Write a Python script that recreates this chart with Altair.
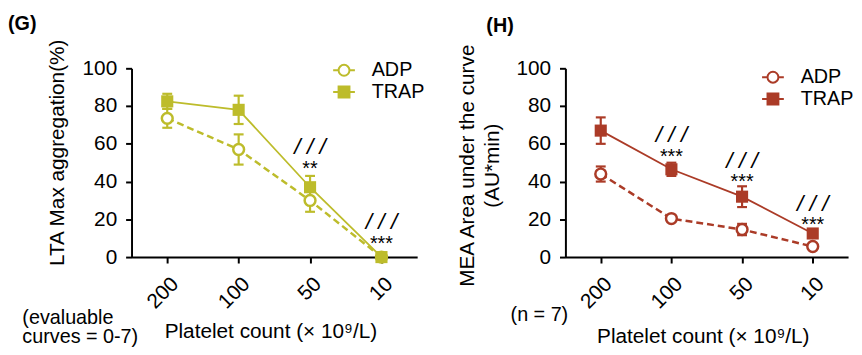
import altair as alt
import pandas as pd

FONT = "Liberation Sans"

categories = ["200", "100", "50", "10"]
series = ["ADP", "TRAP"]

# Panel G: LTA max aggregation (%)
g_adp = [73.5, 57.0, 30.0, 0.0]
g_adp_err = [5.0, 8.0, 6.0, 0.0]
g_trap = [82.5, 78.0, 37.0, 0.0]
g_trap_err = [4.0, 7.5, 6.0, 0.0]
g_sig_cat = ["50", "10"]
g_sig_slash_y = [58.5, 18.8]
g_sig_star = ["**", "***"]
g_sig_star_y = [49.6, 9.9]

# Panel H: MEA area under the curve (AU*min)
h_adp = [44.0, 20.4, 14.6, 5.6]
h_adp_err = [4.0, 1.5, 3.0, 1.0]
h_trap = [67.0, 46.5, 32.0, 12.5]
h_trap_err = [7.0, 3.5, 5.5, 1.5]
h_sig_cat = ["100", "50", "10"]
h_sig_slash_y = [64.8, 50.9, 28.2]
h_sig_star = ["***", "***", "***"]
h_sig_star_y = [56.1, 42.7, 19.9]

G_COLOR = "#bdbc2b"
H_COLOR = "#ab3b27"

ADP_PATH = "M-2,0L-1,0M1,0L2,0M1,0A1,1,0,1,1,-1,0A1,1,0,1,1,1,0Z"
TRAP_PATH = "M-2,0L-1,0M1,0L2,0M-1,-1L1,-1L1,1L-1,1Z"


def make_df(adp, adp_err, trap, trap_err):
    rows = []
    for s, vals, errs in (("ADP", adp, adp_err), ("TRAP", trap, trap_err)):
        for c, v, e in zip(categories, vals, errs):
            rows.append({"cat": c, "series": s, "value": v, "lo": v - e, "hi": v + e, "err": e})
    return pd.DataFrame(rows)


def make_sig(cats, slash_y, stars, star_y):
    return pd.DataFrame({"cat": cats, "slash_y": slash_y, "star": stars, "star_y": star_y})


def panel(df, sig, color, letter, letter_dx, letter_offset, ytitle, ytitle_x, ytitle_y,
          note, note_x, note_y, width, height, legend_x, legend_y, xtitle_y):
    x_scale = alt.Scale(type="point", padding=0.5)
    x_axis = alt.Axis(
        orient="bottom", title="Platelet count (× 10⁹/L)", labelAngle=-45,
        labelFontSize=21, titleFontSize=21, titleFontWeight="normal",
        tickSize=6, tickWidth=2, domainWidth=2, labelPadding=10,
        titleX=width / 2 - 4, titleY=xtitle_y, titleBaseline="middle",
        titleAlign="center",
    )
    y_scale = alt.Scale(domain=[0, 100], nice=False)
    y_axis = alt.Axis(
        values=[0, 20, 40, 60, 80, 100], tickCount=6, title=ytitle, labelFontSize=21,
        titleFontSize=21, titleFontWeight="normal", tickSize=6, tickWidth=2,
        domainWidth=2, labelPadding=9, grid=False, labelOverlap=False,
        titleX=ytitle_x, titleY=ytitle_y, titleBaseline="top", titleAlign="center",
        titleLineHeight=25, titleAngle=270,
    )

    def X():
        return alt.X("cat:O", sort=categories, scale=x_scale, axis=x_axis)

    def Y(field):
        return alt.Y(field, scale=y_scale, axis=y_axis)

    base = alt.Chart(df)
    adp = "datum.series == 'ADP'"
    trap = "datum.series == 'TRAP'"
    line_adp = base.transform_filter(adp).mark_line(
        color=color, strokeWidth=2.5, strokeDash=[7, 4]
    ).encode(x=X(), y=Y("value:Q"))
    line_trap = base.transform_filter(trap).mark_line(
        color=color, strokeWidth=1.8
    ).encode(x=X(), y=Y("value:Q"))
    errs = base.transform_filter("datum.err > 0")
    err_rule = errs.mark_rule(color=color, strokeWidth=2.2).encode(
        x=X(), y=Y("lo:Q"), y2="hi:Q")
    cap_lo = errs.mark_tick(color=color, thickness=2.2, size=10, opacity=1).encode(
        x=X(), y=Y("lo:Q"))
    cap_hi = errs.mark_tick(color=color, thickness=2.2, size=10, opacity=1).encode(
        x=X(), y=Y("hi:Q"))
    pts_adp = base.transform_filter(adp).mark_point(
        shape="circle", filled=False, fill="white", stroke=color, strokeWidth=2.5,
        size=120, opacity=1,
    ).encode(x=X(), y=Y("value:Q"))
    pts_trap = base.transform_filter(trap).mark_point(
        shape="square", filled=True, color=color, size=150, opacity=1,
    ).encode(x=X(), y=Y("value:Q"))

    sbase = alt.Chart(sig)
    slashes = sbase.mark_text(
        text="/ / /", fontSize=23, fontStyle="italic", font=FONT, color="black",
        align="center", baseline="middle",
    ).encode(x=X(), y=Y("slash_y:Q"))
    stars = sbase.mark_text(
        fontSize=20, font=FONT, color="black", align="center", baseline="middle", dy=6,
    ).encode(x=X(), y=Y("star_y:Q"), text="star:N")

    inner = alt.layer(line_adp, line_trap, err_rule, cap_lo, cap_hi, pts_adp, pts_trap,
                      slashes, stars)

    leg = alt.Legend(
        orient="none", legendX=legend_x, legendY=legend_y, title=None,
        labelFontSize=20, labelFont=FONT, symbolSize=121, symbolStrokeWidth=2,
        symbolStrokeColor=color, symbolOpacity=1, labelOffset=18, rowPadding=2,
        padding=0, direction="vertical",
    )
    x_note = alt.X(
        "cat:O", sort=categories, scale=x_scale,
        axis=alt.Axis(
            orient="bottom", title=note, labels=False, ticks=False, domain=False,
            grid=False, titleFontSize=20, titleFontWeight="normal", titleLineHeight=19,
            titleX=note_x, titleY=note_y, titleAlign="left", titleBaseline="middle",
        ),
    )
    legend_layer = base.mark_point(filled=False, opacity=0, strokeWidth=2).encode(
        x=x_note, y=Y("value:Q"),
        shape=alt.Shape("series:N", scale=alt.Scale(domain=series, range=[ADP_PATH, TRAP_PATH]),
                        legend=leg),
        fill=alt.Fill("series:N", scale=alt.Scale(domain=series, range=["white", color]),
                      legend=leg),
        stroke=alt.Stroke("series:N", scale=alt.Scale(domain=series, range=[color, color]),
                          legend=leg),
    )
    return alt.layer(inner, legend_layer).resolve_axis(x="independent").properties(
        width=width, height=height,
        title=alt.TitleParams(
            letter, anchor="start", frame="group", dx=letter_dx, offset=letter_offset,
            fontSize=20, fontWeight="bold", font=FONT, color="black",
        ),
    )


g_df = make_df(g_adp, g_adp_err, g_trap, g_trap_err)
h_df = make_df(h_adp, h_adp_err, h_trap, h_trap_err)
g_sig = make_sig(g_sig_cat, g_sig_slash_y, g_sig_star, g_sig_star_y)
h_sig = make_sig(h_sig_cat, h_sig_slash_y, h_sig_star, h_sig_star_y)

left = panel(
    g_df, g_sig, G_COLOR, "(G)", -125, 5, "LTA Max aggregation(%)", -86, 85,
    ["(evaluable", "curves = 0-7)"], -111, 61, 289, 191, 205, -8, 75,
)
right = panel(
    h_df, h_sig, H_COLOR, "(H)", -80, 7, ["MEA Area under the curve", "(AU*min)"], -110, 98,
    ["(n = 7)"], -56, 58, 286, 191, 200, -1, 80,
)

chart = alt.hconcat(left, right, spacing=150, bounds="flush").resolve_scale(
    shape="independent", fill="independent", stroke="independent", color="independent"
).resolve_legend(shape="independent", fill="independent", stroke="independent").properties(
    padding={"left": 0, "top": 3, "right": 0, "bottom": 3}
).configure(font=FONT).configure_view(stroke=None).configure_axis(
    labelColor="black", titleColor="black", tickColor="black", domainColor="black",
    labelFont=FONT, titleFont=FONT, labelOverlap=False,
).configure_legend(labelColor="black")

chart.save("out.html", embed_options={"renderer": "svg", "actions": False})
